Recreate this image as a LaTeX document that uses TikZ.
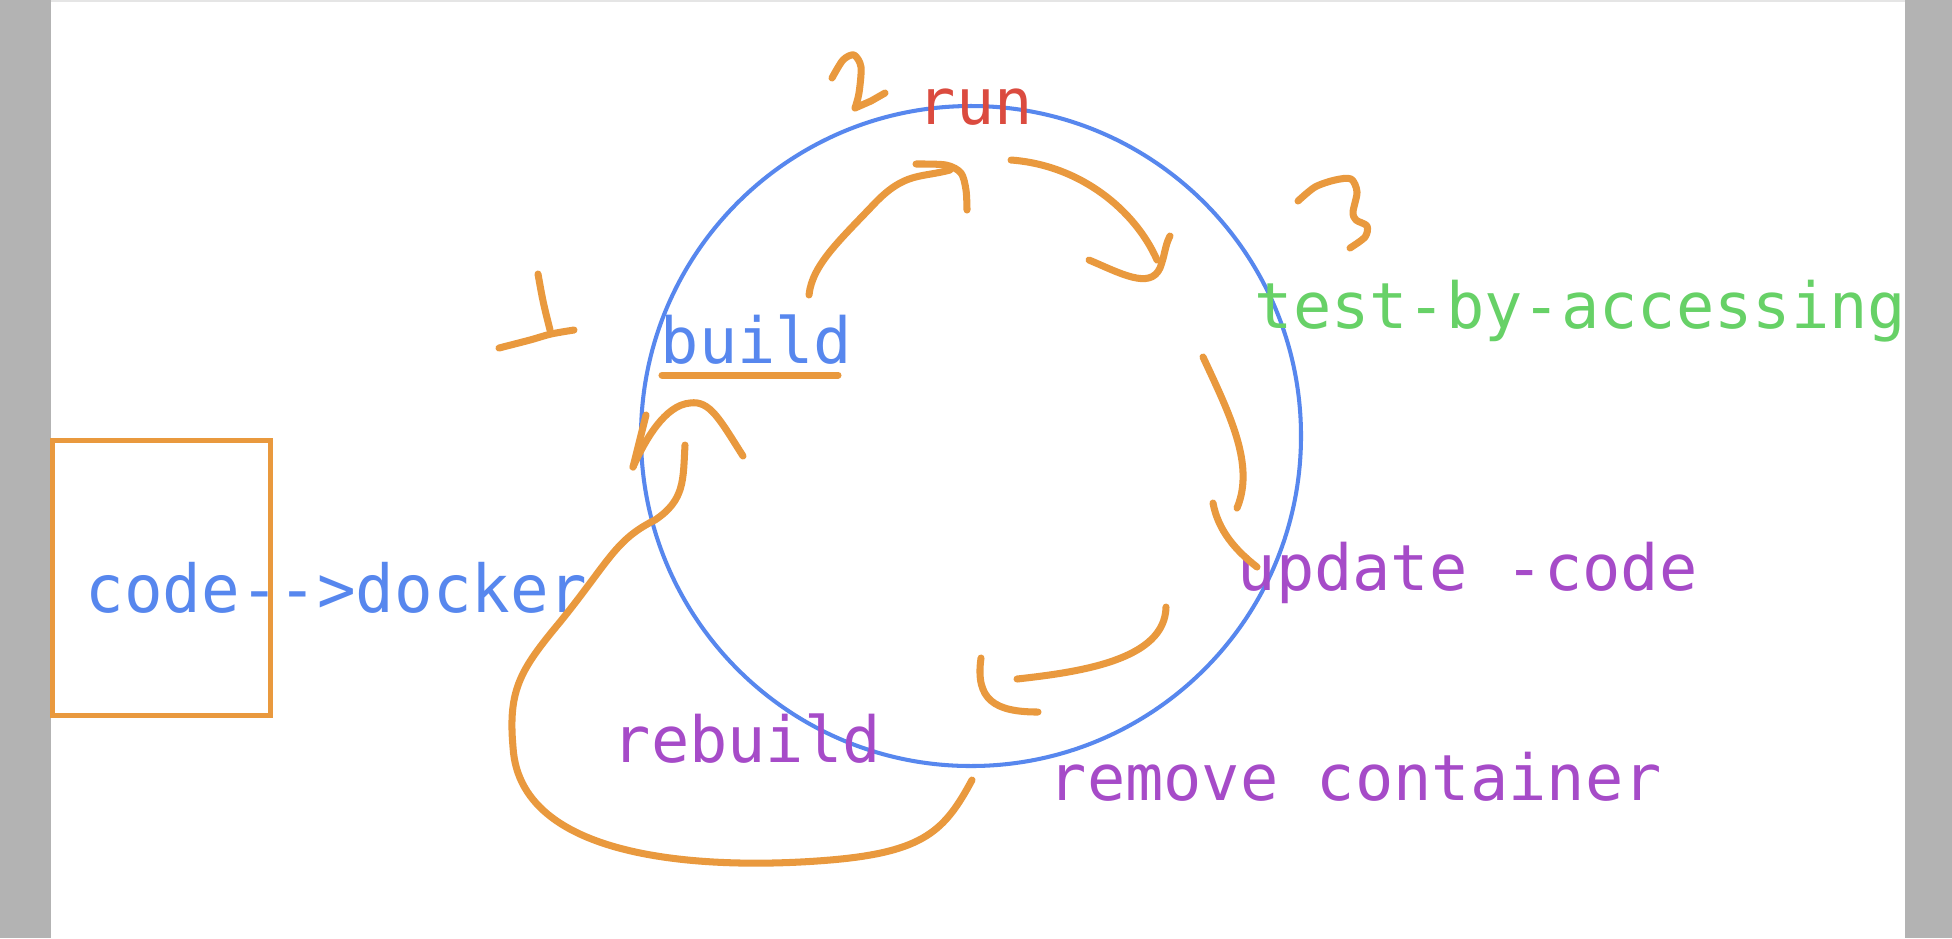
\documentclass[tikz,border=0pt]{standalone}
\usepackage{fontspec}
\newfontfamily\sketchmono{DejaVu Sans Mono}
\newfontfamily\boxmono[FakeStretch=0.97]{DejaVu Sans Mono}
\usetikzlibrary{calc}

\definecolor{penorange}{RGB}{233,153,62}
\definecolor{inkblue}{RGB}{87,135,238}
\definecolor{inkred}{RGB}{219,75,63}
\definecolor{inkgreen}{RGB}{103,209,103}
\definecolor{inkpurple}{RGB}{166,75,200}
\definecolor{bargray}{RGB}{179,179,179}

\begin{document}
\begin{tikzpicture}[x=0.01cm, y=-0.01cm,
  pen/.style={draw=penorange, line width=2pt, line cap=round, line join=round},
  word/.style={font=\sketchmono\fontsize{18.1pt}{21pt}\selectfont, inner sep=0pt, anchor=base west},
  codebox/.style={draw=penorange, line width=1.4pt, minimum width=2.17cm, minimum height=2.74cm, inner sep=0pt}]
\useasboundingbox (0,0) rectangle (1952,938);
% page with gray margins
\fill[white] (0,0) rectangle (1952,938);
\fill[bargray] (0,0) rectangle (51,938);
\fill[bargray] (1905,0) rectangle (1952,938);
\draw[black!10, line width=0.6pt] (51,1) -- (1905,1);

% left box
\node[codebox] (box) at (161.5,578) {};
\node[word, text=inkblue, font=\boxmono\fontsize{18.8pt}{22pt}\selectfont] (codedocker) at (85,612) {code-->docker};

% the cycle
\draw[inkblue, line width=1.15pt] (971,436) circle (330);

% labels
\node[word, text=inkred] (run) at (917,124) {run};
\node[word, text=inkblue] (build) at (660,363) {build};
\node[word, text=inkgreen] (test) at (1254,328) {test-by-accessing};
\node[word, text=inkpurple] (update) at (1237,590) {update -code};
\node[word, text=inkpurple] (rebuild) at (612,762) {rebuild};
\node[word, text=inkpurple] (remove) at (1048,800) {remove container};
\draw[pen] (662,375) -- (838,375);

% numbers 1 2 3
\draw[pen] (538,274) .. controls (543,302) .. (550,330);
\draw[pen] plot[smooth] coordinates {(499,348) (530,340) (551,334) (574,330)};
\draw[pen] plot[smooth] coordinates {(832,78) (843,60) (854,55) (861,67) (859,93) (855,108)} -- (871,101) -- (885,93);
\draw[pen] plot[smooth] coordinates {(1298,201) (1315,187) (1335,180) (1351,179) (1357,192) (1353,212) (1356,220) (1367,226) (1365,237) (1350,248)};

% build -> run
\draw[pen] (809,295) .. controls (812,265) and (840,240) .. (875,203) .. controls (905,172) and (920,178) .. (950,170);
\draw[pen] plot[smooth] coordinates {(916,164) (946,165) (961,173) (966,190) (967,210)};

% run -> test
\draw[pen] (1011,160) .. controls (1080,165) and (1135,210) .. (1157,260);
\draw[pen] (1089,260) .. controls (1120,273) and (1150,290) .. (1160,268) .. controls (1165,255) and (1165,245) .. (1170,236);

% test -> update
\draw[pen] (1203,357) .. controls (1230,415) and (1255,465) .. (1237,508);
\draw[pen] (1213,503) .. controls (1218,530) and (1235,550) .. (1257,567);

% update -> remove
\draw[pen] (1166,607) .. controls (1165,660) and (1080,672) .. (1017,679);
\draw[pen] (981,658) .. controls (975,700) and (995,712) .. (1038,712);

% rebuild loop back to build
\draw[pen] (972,780) .. controls (945,830) and (925,852) .. (830,860)
  .. controls (735,868) and (520,870) .. (513,747)
  .. controls (508,690) and (520,670) .. (560,622)
  .. controls (610,560) and (615,540) .. (655,520)
  .. controls (685,500) and (683,480) .. (685,445);
\draw[pen] (743,456) .. controls (720,420) and (710,400) .. (690,403)
  .. controls (665,405) and (645,440) .. (633,467);
\draw[pen] (646,415) -- (633,467);
\end{tikzpicture}
\end{document}
